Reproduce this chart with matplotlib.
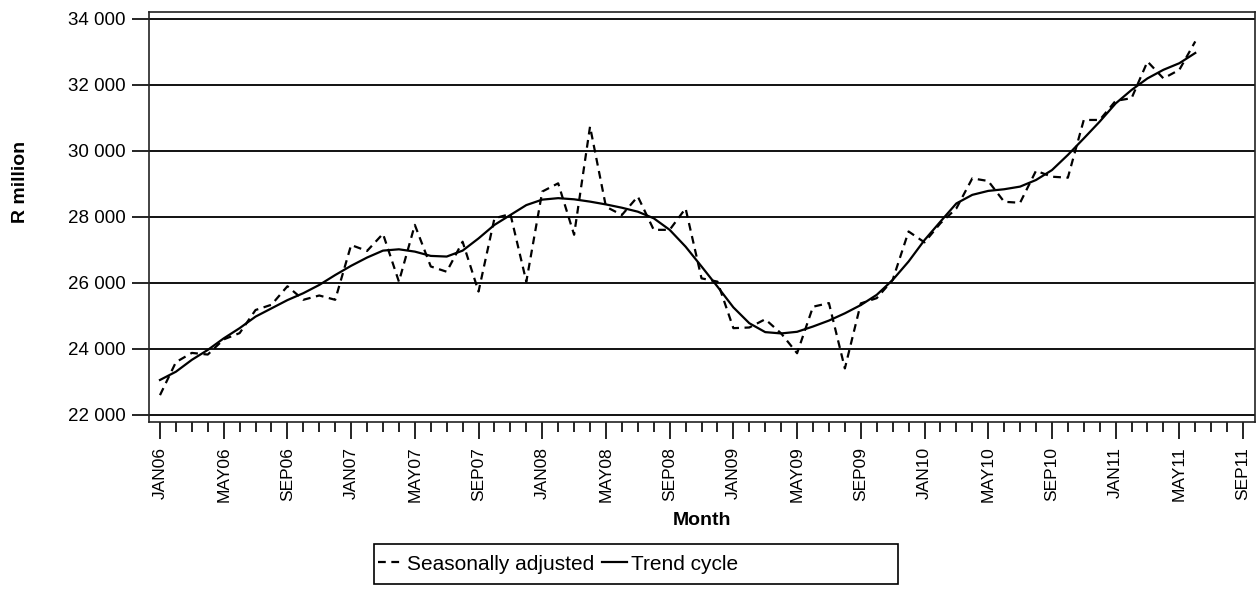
import matplotlib
matplotlib.use("Agg")
import matplotlib.pyplot as plt
from matplotlib.patches import Rectangle
from matplotlib.ticker import MultipleLocator, FuncFormatter

plt.rcParams['font.family'] = ['Liberation Sans', 'DejaVu Sans']

# monthly series, JAN06 .. JUN11
seasonally_adjusted = [
    22600, 23600, 23880, 23830, 24290, 24480, 25180, 25340, 25900, 25490,
    25620, 25490, 27150, 26970, 27490, 26040, 27760, 26500, 26340, 27250,
    25740, 27960, 28090, 26040, 28770, 29020, 27460, 30740, 28310, 28060,
    28620, 27610, 27610, 28260, 26140, 26040, 24630, 24650, 24900, 24470,
    23870, 25280, 25390, 23410, 25380, 25540, 26090, 27560, 27230, 27810,
    28260, 29170, 29090, 28460, 28430, 29400, 29220, 29190, 30940, 30940,
    31520, 31600, 32710, 32200, 32460, 33320,
]
trend_cycle = [
    23060, 23310, 23670, 23970, 24320, 24630, 24980, 25230, 25480, 25690,
    25940, 26240, 26520, 26770, 26980, 27020, 26950, 26820, 26800, 26980,
    27350, 27760, 28060, 28360, 28525, 28570, 28535, 28465, 28380, 28280,
    28160, 27960, 27610, 27100, 26500, 25890, 25260, 24780, 24510, 24470,
    24520, 24680, 24860, 25080, 25330, 25640, 26090, 26650, 27300, 27860,
    28410, 28670, 28790, 28840, 28920, 29120, 29420, 29880, 30380, 30890,
    31440, 31850, 32200, 32460, 32660, 32970,
]
months = list(range(len(trend_cycle)))
tick_months = list(range(0, 69, 4))
tick_labels = ["JAN06", "MAY06", "SEP06", "JAN07", "MAY07", "SEP07",
               "JAN08", "MAY08", "SEP08", "JAN09", "MAY09", "SEP09",
               "JAN10", "MAY10", "SEP10", "JAN11", "MAY11", "SEP11"]
y_ticks = [22000, 24000, 26000, 28000, 30000, 32000, 34000]

W, H = 1257, 616
fig = plt.figure(figsize=(W / 100, H / 100), dpi=100)
ax = fig.add_axes([149 / W, 1 - 421.7 / H, (1255 - 149) / W, (421.7 - 12) / H])

for v in y_ticks:
    ax.axhline(v, color='#111111', lw=1.4, zorder=1)

sa_line, = ax.plot(months, seasonally_adjusted, color='black', lw=1.6,
                   linestyle=(0, (3.5, 2.5)), zorder=3)
tc_line, = ax.plot(months, trend_cycle, color='black', lw=1.6, zorder=4)

ax.set_xlim(-0.69, 68.75)
ax.set_ylim(21795, 34212)

ax.set_yticks(y_ticks)
ax.yaxis.set_major_formatter(FuncFormatter(lambda v, p: f"{v:,.0f}".replace(",", " ")))
ax.set_xticks(tick_months)
ax.set_xticklabels(tick_labels, rotation=90)
ax.xaxis.set_minor_locator(MultipleLocator(1))

ax.tick_params(axis='both', which='major', direction='out', length=12, width=1.2,
               color='black', pad=5)
ax.tick_params(axis='y', which='major', labelsize=13.5)
ax.tick_params(axis='x', which='major', labelsize=12.5, pad=6)
ax.tick_params(axis='x', which='minor', direction='out', length=7, width=1.2, color='black')
for s in ax.spines.values():
    s.set_linewidth(1.2)
    s.set_color('#222222')

ax.set_xlabel("Month", fontsize=14, fontweight='bold')
ax.xaxis.set_label_coords(0.5, (421.7 - 512) / 409.7)
ax.set_ylabel("R million", fontsize=14, fontweight='bold')
ax.yaxis.set_label_coords((29 - 149) / 1106, (421.7 - 182) / 409.7)

# legend: content on the left of a wide box
leg = fig.legend([sa_line, tc_line], ["Seasonally adjusted", "Trend cycle"],
                 loc='center left', bbox_to_anchor=(378 / W, 1 - 564 / H),
                 ncol=2, fontsize=15, frameon=False,
                 handlelength=1.2, handletextpad=0.2,
                 columnspacing=0.35, borderpad=0, borderaxespad=0)
fig.patches.append(Rectangle((374 / W, 1 - 584 / H), (898 - 374) / W, 40 / H,
                             transform=fig.transFigure, fill=False,
                             edgecolor='black', lw=1.2))

fig.savefig("out.png", dpi=100)
